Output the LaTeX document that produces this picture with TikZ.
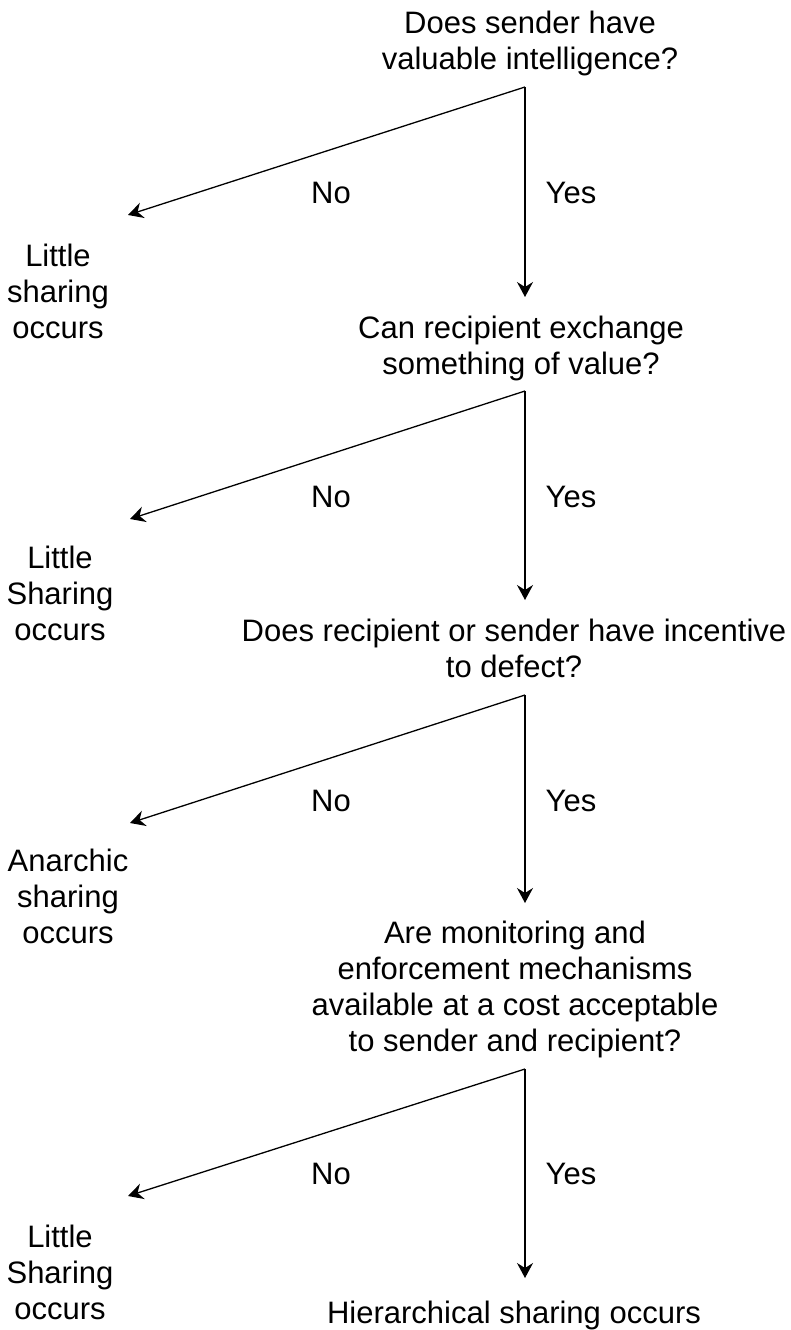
\documentclass[tikz,border=0pt]{standalone}
\usepackage{fontspec}
\setmainfont{Liberation Sans}
\usetikzlibrary{arrows.meta}
\begin{document}
\begin{tikzpicture}[x=1pt,y=-1pt,
  txt/.style={font=\fontsize{31}{36}\selectfont, align=center, inner sep=0pt},
  arr/.style={line width=1.3pt, -{Stealth[length=15pt,width=16pt,inset=5pt]}}]
\useasboundingbox (0,0) rectangle (791,1330);

% level 1
\node[txt, anchor=north] (q1) at (530,10.5) {Does sender have\\valuable intelligence?};
\coordinate (c1) at (525,87);
\coordinate (n1) at (128,215);
\coordinate (y1) at (525,297);
\draw[arr] (c1) -- (n1);
\draw[arr] (c1) -- (y1);
\node[txt, anchor=base] (no1) at (331,203) {No};
\node[txt, anchor=base] (yes1) at (571,203) {Yes};
\node[txt, anchor=north] (l1) at (58,243.5) {Little\\sharing\\occurs};

% level 2
\node[txt, anchor=north] (q2) at (521,315.5) {Can recipient exchange\\something of value?};
\coordinate (c2) at (525,391);
\coordinate (n2) at (130,519);
\coordinate (y2) at (525,600);
\draw[arr] (c2) -- (n2);
\draw[arr] (c2) -- (y2);
\node[txt, anchor=base] (no2) at (331,507) {No};
\node[txt, anchor=base] (yes2) at (571,507) {Yes};
\node[txt, anchor=north] (l2) at (60,545.5) {Little\\Sharing\\occurs};

% level 3
\node[txt, anchor=north] (q3) at (514,618.5) {Does recipient or sender have incentive\\to defect?};
\coordinate (c3) at (525,695);
\coordinate (n3) at (130,823);
\coordinate (y3) at (525,903);
\draw[arr] (c3) -- (n3);
\draw[arr] (c3) -- (y3);
\node[txt, anchor=base] (no3) at (331,811) {No};
\node[txt, anchor=base] (yes3) at (571,811) {Yes};
\node[txt, anchor=north] (l3) at (68,848.5) {Anarchic\\sharing\\occurs};

% level 4
\node[txt, anchor=north] (q4) at (515,920.5) {Are monitoring and\\enforcement mechanisms\\available at a cost acceptable\\to sender and recipient?};
\coordinate (c4) at (525,1069);
\coordinate (n4) at (128,1196);
\coordinate (y4) at (525,1278);
\draw[arr] (c4) -- (n4);
\draw[arr] (c4) -- (y4);
\node[txt, anchor=base] (no4) at (331,1184) {No};
\node[txt, anchor=base] (yes4) at (571,1184) {Yes};
\node[txt, anchor=north] (l4) at (60,1224.5) {Little\\Sharing\\occurs};

% result
\node[txt, anchor=north] (res) at (514,1300.5) {Hierarchical sharing occurs};
\end{tikzpicture}
\end{document}
